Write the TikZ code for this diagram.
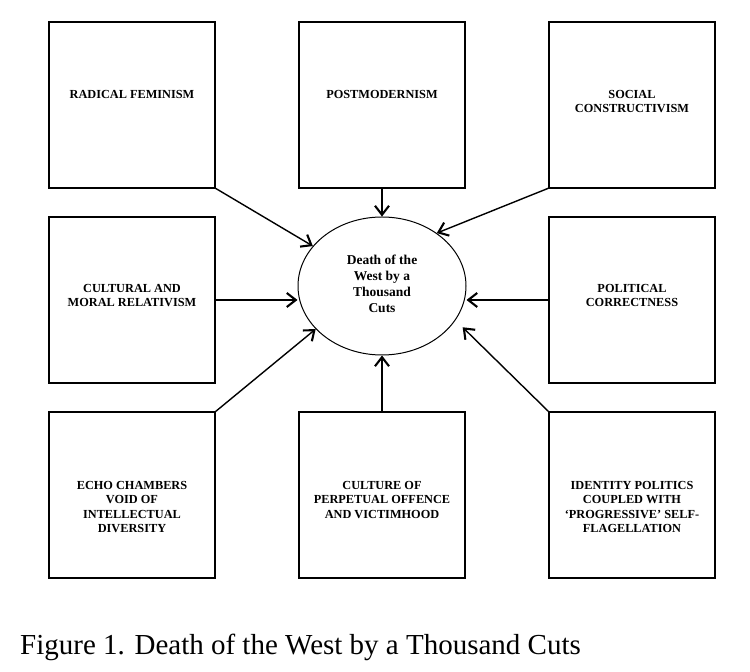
\documentclass[tikz,border=0pt]{standalone}
\usepackage{fontspec}
\setmainfont{Liberation Serif}
\usetikzlibrary{shapes.geometric,arrows.meta}
\begin{document}
\begin{tikzpicture}[x=1pt,y=1pt,
  box/.style={draw,line width=1.4pt,minimum width=166pt,minimum height=166pt,inner sep=0pt,outer sep=0pt},
  lbl/.style={font=\fontsize{12.3}{14.5}\selectfont\bfseries,align=center,inner sep=0pt,anchor=north},
  arr/.style={line width=1.4pt,-{Straight Barb[length=9pt,width=14pt,line width=2.1pt]}}]
\useasboundingbox[fill=white] (0,0) rectangle (750,672);
% boxes
\node[box] (tl) at (132,567) {};
\node[box] (tm) at (382,567) {};
\node[box] (tr) at (632,567) {};
\node[box] (ml) at (132,372) {};
\node[box] (mr) at (632,372) {};
\node[box] (bl) at (132,177) {};
\node[box] (bm) at (382,177) {};
\node[box] (br) at (632,177) {};
% labels
\node[lbl] (tlt) at (132,582) {RADICAL FEMINISM};
\node[lbl] (tmt) at (382,582) {POSTMODERNISM};
\node[lbl] (trt) at (632,582) {SOCIAL\\CONSTRUCTIVISM};
\node[lbl] (mlt) at (132,388) {CULTURAL AND\\MORAL RELATIVISM};
\node[lbl] (mrt) at (632,388) {POLITICAL\\CORRECTNESS};
\node[lbl] (blt) at (132,191) {ECHO CHAMBERS\\VOID OF\\INTELLECTUAL\\DIVERSITY};
\node[lbl] (bmt) at (382,191) {CULTURE OF\\PERPETUAL OFFENCE\\AND VICTIMHOOD};
\node[lbl] (brt) at (632,191) {IDENTITY POLITICS\\COUPLED WITH\\‘PROGRESSIVE’ SELF-\\FLAGELLATION};
% ellipse
\node[ellipse,draw,line width=1pt,minimum width=168pt,minimum height=138pt,inner sep=0pt] (ell) at (382,386) {};
\node[font=\fontsize{13.5}{16}\selectfont\bfseries,align=center,inner sep=0pt,anchor=north] (ellt) at (382,417)
  {Death of the\\West by a\\Thousand\\Cuts};
% connectors
\draw[arr] (tl.south east) -- (ell.150);
\draw[arr] (tm.south) -- (ell.north);
\draw[arr] (tr.south west) -- (ell.44);
\draw[arr] (ml.east) -- (ml.east -| ell.west);
\draw[arr] (mr.west) -- (mr.west -| ell.east);
\draw[arr] (bl.north east) -- (ell.213);
\draw[arr] (bm.north) -- (ell.south);
\draw[arr,shorten >=10pt] (br.north west) -- (ell.-25);
% caption
\node[anchor=base west,inner sep=0pt,font=\fontsize{29}{33}\selectfont] (cap) at (20,17)
  {Figure 1. Death of the West by a Thousand Cuts};
\end{tikzpicture}
\end{document}
